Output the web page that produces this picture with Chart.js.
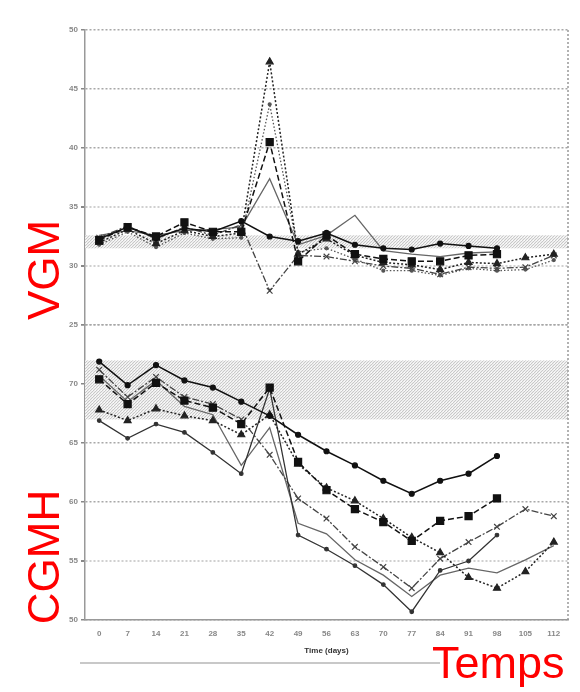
<!DOCTYPE html>
<html>
<head>
<meta charset="utf-8">
<script src="https://cdn.jsdelivr.net/npm/chart.js@4"></script>
<style>
  body { margin: 0; background: #fff; }
  #wrap { position: relative; width: 580px; height: 692px; }
  canvas { position: absolute; left: 0; top: 0; }
  .red { position: absolute; color: #ff0000; font-family: "Liberation Sans", Arial, sans-serif; white-space: nowrap; }
  .vert { transform: translate(-50%, -50%) rotate(-90deg); }
  #rule { position: absolute; left: 80px; top: 662px; width: 360px; height: 0; border-top: 2px solid #c8c8c8; }
</style>
</head>
<body>
<div id="wrap">
  <canvas id="chart" width="580" height="692"></canvas>
  <div id="rule"></div>
  <div class="red vert" style="left:44px; top:270px; font-size:44px;">VGM</div>
  <div class="red vert" style="left:44px; top:557px; font-size:44px;">CGMH</div>
  <div class="red" style="left:432px; top:637px; font-size:45px;">Temps</div>
</div>
<script>
/* data */

const days = ['0', '7', '14', '21', '28', '35', '42', '49', '56', '63', '70', '77', '84', '91', '98', '105', '112']

// VGM (top panel)
const vgm1 = [32.3, 33.3, 32.4, 33.2, 32.9, 33.8, 32.5, 32.1, 32.8, 31.8, 31.5, 31.4, 31.9, 31.7, 31.5, null, null]
const vgm2 = [32.2, 33.3, 32.5, 33.7, 32.9, 32.9, 40.5, 30.4, 32.6, 31.0, 30.6, 30.4, 30.4, 30.9, 31.0, null, null]
const vgm3 = [32.0, 33.1, 31.9, 33.0, 32.5, 32.8, 47.3, 31.0, 32.3, 30.9, 30.3, 30.1, 29.7, 30.3, 30.2, 30.7, 31.0]
const vgm4 = [32.4, 33.4, 32.3, 33.3, 32.6, 33.5, 27.9, 30.9, 30.8, 30.4, 30.0, 29.8, 29.3, 29.9, 29.8, 29.9, 30.9]
const vgm5 = [32.6, 33.0, 32.6, 33.0, 33.1, 33.3, 37.4, 31.8, 32.6, 34.3, 31.3, 31.0, 30.8, 31.1, 31.2, null, null]
const vgm6 = [31.8, 32.9, 31.6, 32.8, 32.3, 32.4, 43.7, 31.2, 31.5, 30.6, 29.6, 29.6, 29.2, 29.8, 29.6, 29.7, 30.5]

// CGMH (bottom panel)
const cgmh1 = [71.9, 69.9, 71.6, 70.3, 69.7, 68.5, 67.3, 65.7, 64.3, 63.1, 61.8, 60.7, 61.8, 62.4, 63.9, null, null]
const cgmh2 = [70.4, 68.3, 70.1, 68.6, 68.0, 66.6, 69.7, 63.4, 61.0, 59.4, 58.3, 56.7, 58.4, 58.8, 60.3, null, null]
const cgmh3 = [67.8, 66.9, 67.9, 67.3, 66.9, 65.7, 67.4, 63.2, 61.2, 60.1, 58.6, 57.0, 55.7, 53.6, 52.7, 54.1, 56.6]
const cgmh4 = [66.9, 65.4, 66.6, 65.9, 64.2, 62.4, 69.6, 57.2, 56.0, 54.6, 53.0, 50.7, 54.2, 55.0, 57.2, null, null]
const cgmh5 = [71.2, 68.9, 70.6, 68.9, 68.3, 67.0, 64.0, 60.3, 58.6, 56.2, 54.5, 52.7, 55.2, 56.6, 57.9, 59.4, 58.8]
const cgmh6 = [70.7, 68.5, 70.3, 68.1, 67.4, 63.1, 66.3, 58.2, 57.3, 55.1, 53.8, 52.0, 53.8, 54.4, 54.0, 55.1, 56.3]

// reference ranges (shaded)
const vgmBand = [31.5, 32.6]
const cgmhBand = [67, 72]

const vgmTicks = [25, 30, 35, 40, 45, 50]
const cgmhTicks = [50, 55, 60, 65, 70, 75]

/* styles */

const styles = [
  { borderColor: '#111', borderDash: [], pointStyle: 'circle', pointRadius: 2.5, borderWidth: 1.5 },
  { borderColor: '#111', borderDash: [6, 3], pointStyle: 'rect', pointRadius: 5, borderWidth: 1.5 },
  { borderColor: '#222', borderDash: [2, 2], pointStyle: 'triangle', pointRadius: 4, borderWidth: 1.5 },
  { borderColor: '#444', borderDash: [7, 2, 2, 2], pointStyle: 'crossRot', pointRadius: 4, borderWidth: 1.3 },
  { borderColor: '#666', borderDash: [], pointStyle: 'circle', pointRadius: 0, borderWidth: 1.3 },
  { borderColor: '#555', borderDash: [1.5, 2], pointStyle: 'circle', pointRadius: 1.5, borderWidth: 1.3 },
  { borderColor: '#333', borderDash: [], pointStyle: 'circle', pointRadius: 1.8, borderWidth: 1.3 }
]

const vgmStyle = [0, 1, 2, 3, 4, 5]
const cgmhStyle = [0, 1, 2, 6, 3, 4]

function makeSet(data, i, axis) {
  const s = styles[i]
  return {
    data: data,
    yAxisID: axis,
    borderColor: s.borderColor,
    backgroundColor: s.borderColor,
    borderDash: s.borderDash,
    borderWidth: s.borderWidth,
    pointStyle: s.pointStyle,
    pointRadius: s.pointRadius,
    pointBorderWidth: 1.2,
    tension: 0,
    spanGaps: false
  }
}

const datasets = [
  ...[vgm1, vgm2, vgm3, vgm4, vgm5, vgm6].map((d, i) => makeSet(d, vgmStyle[i], 'yVgm')),
  ...[cgmh1, cgmh2, cgmh3, cgmh4, cgmh5, cgmh6].map((d, i) => makeSet(d, cgmhStyle[i], 'yCgmh'))
]

/* shaded bands + right frame */

const tile = document.createElement('canvas')
tile.width = 3
tile.height = 3
const tctx = tile.getContext('2d')
tctx.fillStyle = '#efefef'
tctx.fillRect(0, 0, 3, 3)
tctx.fillStyle = '#c8c8c8'
tctx.fillRect(0, 0, 1, 1)
tctx.fillRect(2, 1, 1, 1)
tctx.fillRect(1, 2, 1, 1)
tctx.fillStyle = '#fbfbfb'
tctx.fillRect(2, 0, 1, 1)

const bandPlugin = {
  id: 'bands',
  beforeDatasetsDraw(chart) {
    const ctx = chart.ctx
    const area = chart.chartArea
    const pattern = ctx.createPattern(tile, 'repeat')
    const bands = [[chart.scales.yVgm, vgmBand], [chart.scales.yCgmh, cgmhBand]]
    ctx.save()
    bands.forEach(([scale, band]) => {
      const y1 = scale.getPixelForValue(band[1])
      const y0 = scale.getPixelForValue(band[0])
      ctx.fillStyle = pattern
      ctx.fillRect(area.left, y1, area.right - area.left, y0 - y1)
    })
    ctx.strokeStyle = '#999'
    ctx.lineWidth = 1.5
    ctx.setLineDash([2, 2])
    ctx.beginPath()
    ctx.moveTo(area.right, area.top)
    ctx.lineTo(area.right, area.bottom)
    ctx.stroke()
    ctx.restore()
  }
}

/* chart */

const tickFont = { family: 'Liberation Sans', size: 8, weight: 'bold' }

function yAxis(min, max, ticks, hideTop) {
  return {
    type: 'linear',
    position: 'left',
    stack: 'panels',
    stackWeight: 1,
    min: min,
    max: max,
    afterBuildTicks: (scale) => { scale.ticks = ticks.map(v => ({ value: v })) },
    afterFit: (scale) => { scale.width = 85 },
    ticks: {
      color: '#888',
      font: tickFont,
      padding: 3,
      callback: (v) => (hideTop && v === max) ? '' : v
    },
    grid: {
      color: (c) => ([30, 35, 55].includes(c.tick.value) ? '#d0d0d0' : '#a8a8a8'),
      lineWidth: (c) => ([30, 35, 55].includes(c.tick.value) ? 2 : 1.5),
      tickLength: 4,
      tickColor: '#888'
    },
    border: { color: '#999', width: 1.5, dash: [2, 2] }
  }
}

const ctx = document.getElementById('chart').getContext('2d')
const myChart = new Chart(ctx, {
  type: 'line',
  data: { labels: days, datasets: datasets },
  options: {
    responsive: false,
    animation: false,
    layout: { padding: { left: 0, right: 12, top: 30, bottom: 32 } },
    plugins: {
      legend: { display: false },
      tooltip: { enabled: false }
    },
    scales: {
      x: {
        offset: true,
        afterFit: (scale) => { scale.height = 40 },
        grid: { display: false, tickLength: 3 },
        border: { color: '#999', width: 1.5, dash: [2, 2] },
        ticks: { color: '#888', font: tickFont, padding: 6, maxRotation: 0, autoSkip: false },
        title: {
          display: true,
          text: 'Time (days)',
          color: '#333',
          font: { family: 'Liberation Sans', size: 8, weight: 'bold' },
          padding: { top: 2 }
        }
      },
      // stacked axes are laid out bottom-up: CGMH first, VGM on top
      yCgmh: yAxis(50, 75, cgmhTicks, true),
      yVgm: yAxis(25, 50, vgmTicks, false)
    }
  },
  plugins: [bandPlugin]
})
</script>
</body>
</html>
